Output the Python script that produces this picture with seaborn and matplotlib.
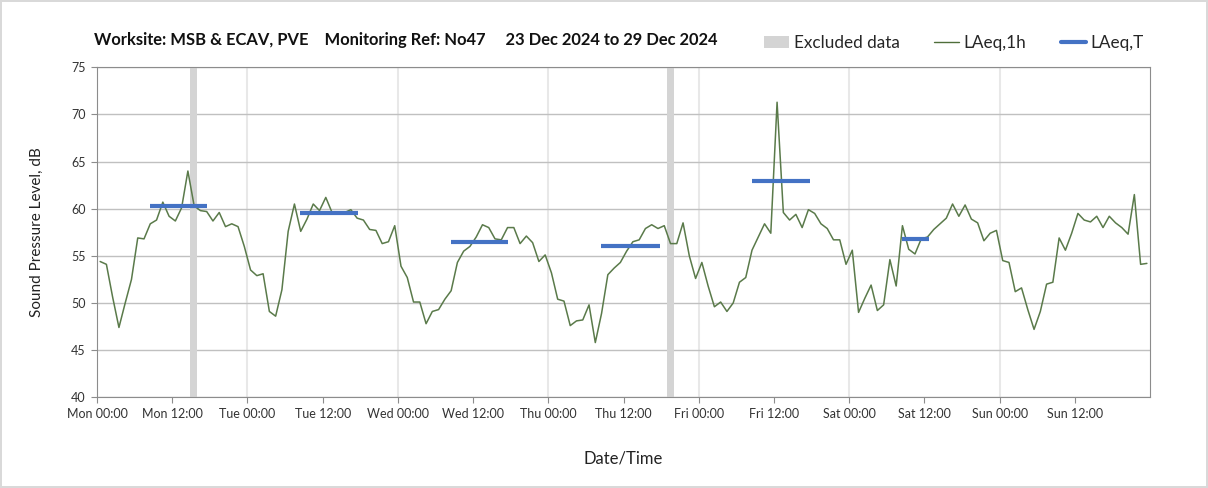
import matplotlib
matplotlib.use("Agg")
import matplotlib.pyplot as plt
import numpy as np
import pandas as pd
import seaborn as sns
from matplotlib.lines import Line2D
from matplotlib.patches import Patch

# Hourly LAeq,1h readings, Mon 00:00 -> Sun 23:00 (23-29 Dec 2024)
laeq_1h = [
    54.4, 54.1, 50.6, 47.4, 50.0, 52.5, 56.9, 56.8, 58.4, 58.8, 60.7, 59.2,
    58.7, 60.1, 64.0, 60.3, 59.8, 59.7, 58.7, 59.6, 58.1, 58.4, 58.1, 56.0,
    53.5, 52.9, 53.1, 49.1, 48.6, 51.4, 57.6, 60.5, 57.6, 58.9, 60.5, 59.8,
    61.2, 59.6, 59.6, 59.6, 59.9, 59.0, 58.8, 57.8, 57.7, 56.3, 56.5, 58.2,
    53.9, 52.7, 50.1, 50.1, 47.8, 49.1, 49.3, 50.4, 51.3, 54.3, 55.5, 56.0,
    57.0, 58.3, 58.0, 56.8, 56.7, 58.0, 58.0, 56.3, 57.1, 56.4, 54.4, 55.1,
    53.2, 50.4, 50.2, 47.6, 48.1, 48.2, 49.8, 45.8, 48.9, 53.0, 53.7, 54.3,
    55.5, 56.5, 56.7, 57.9, 58.3, 57.9, 58.2, 56.3, 56.3, 58.5, 55.0, 52.6,
    54.3, 51.8, 49.6, 50.1, 49.1, 50.0, 52.2, 52.7, 55.6, 57.0, 58.4, 57.4,
    71.3, 59.6, 58.8, 59.4, 58.0, 59.9, 59.5, 58.4, 57.9, 56.7, 56.7, 54.1,
    55.6, 49.0, 50.5, 51.9, 49.2, 49.8, 54.6, 51.8, 58.2, 55.7, 55.2, 56.8,
    57.0, 57.8, 58.4, 59.0, 60.5, 59.2, 60.4, 58.9, 58.5, 56.6, 57.4, 57.7,
    54.5, 54.3, 51.2, 51.6, 49.3, 47.2, 49.1, 52.0, 52.2, 56.9, 55.6, 57.4,
    59.5, 58.8, 58.6, 59.2, 58.0, 59.2, 58.5, 58.0, 57.3, 61.5, 54.1, 54.2,
]

# LAeq,T over the working periods (hours from Mon 00:00)
laeq_t_start = [8.4, 32.4, 56.4, 80.4, 104.5, 128.5]
laeq_t_end = [17.6, 41.6, 65.6, 89.8, 113.8, 132.8]
laeq_t_value = [60.3, 59.5, 56.5, 56.0, 62.9, 56.8]

# excluded data windows (hours from Mon 00:00)
excluded_start = [14.9, 91.0]
excluded_end = [16.0, 92.1]

tick_labels = [
    "Mon 00:00", "Mon 12:00", "Tue 00:00", "Tue 12:00", "Wed 00:00", "Wed 12:00",
    "Thu 00:00", "Thu 12:00", "Fri 00:00", "Fri 12:00", "Sat 00:00", "Sat 12:00",
    "Sun 00:00", "Sun 12:00",
]

sns.set_style("white")
plt.rcParams["font.family"] = ["Lato", "DejaVu Sans"]

df = pd.DataFrame({"hour": np.arange(len(laeq_1h)) + 0.5, "LAeq": laeq_1h})

fig = plt.figure(figsize=(12.08, 4.88), dpi=100)
fig.patch.set_edgecolor("#d9d9d9")
fig.patch.set_linewidth(1.5)
ax = fig.add_axes([0.0803, 0.186, 0.8717, 0.676])

for s, e in zip(excluded_start, excluded_end):
    ax.axvspan(s, e, color="#d4d4d4", lw=0, zorder=1)

for d in range(24, 168, 24):
    ax.axvline(d, color="#e8e8e8", lw=1.5, zorder=0)

sns.lineplot(data=df, x="hour", y="LAeq", ax=ax, color="#5a7a4a", lw=1.1, zorder=3)
ax.hlines(laeq_t_value, laeq_t_start, laeq_t_end, color="#4472c4", lw=3, zorder=4)

ax.set_xlim(0, 168)
ax.set_ylim(40, 75)
ax.set_yticks(range(40, 76, 5))
ax.set_xticks(range(0, 168, 12))
ax.set_xticklabels(tick_labels)
ax.yaxis.grid(True, color="#c0c0c0", lw=1)
ax.set_axisbelow(True)
for sp in ax.spines.values():
    sp.set_visible(True)
    sp.set_color("#8c8c8c")
ax.tick_params(axis="both", labelsize=9, colors="#333333", length=4,
               color="#8c8c8c", direction="out", pad=4)
ax.tick_params(axis="both", which="both", bottom=True, left=True)
ax.set_xlabel("Date/Time", fontsize=12, labelpad=22, color="#222222")
ax.set_ylabel("Sound Pressure Level, dB", fontsize=11, color="#222222", labelpad=20)

fig.text(0.078, 0.918, "Worksite: MSB & ECAV, PVE    Monitoring Ref: No47     "
         "23 Dec 2024 to 29 Dec 2024",
         fontsize=11.9, fontweight="bold", va="center", ha="left", color="#111111")

handles = [
    Patch(facecolor="#d4d4d4", edgecolor="none"),
    Line2D([], [], color="#4f6e3a", lw=1),
    Line2D([], [], color="#4472c4", lw=3),
]
fig.legend(handles, ["Excluded data", "LAeq,1h", "LAeq,T"], ncol=3,
           loc="center right", bbox_to_anchor=(0.9595, 0.912), frameon=False,
           fontsize=12.3, handlelength=1.5, handletextpad=0.25, columnspacing=2.0)

fig.savefig("out.png", dpi=100, edgecolor=fig.get_edgecolor())
